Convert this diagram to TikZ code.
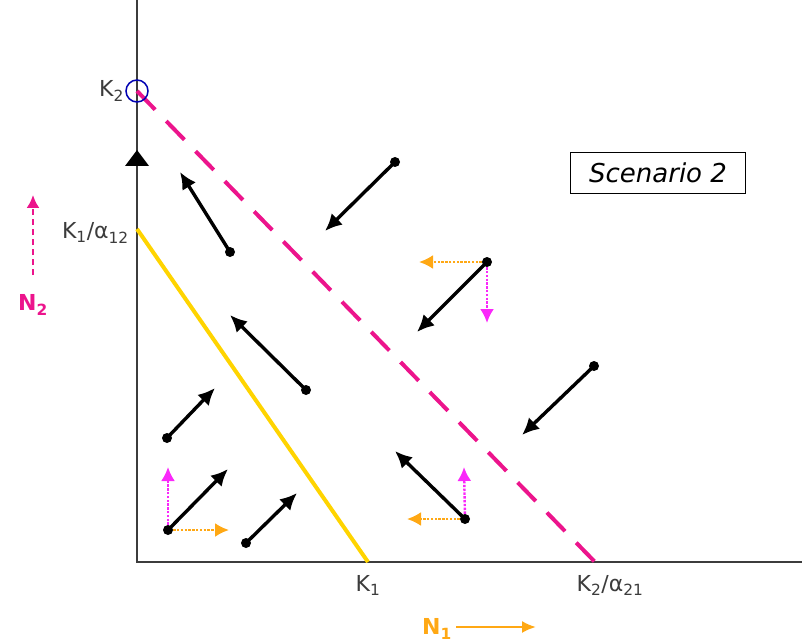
\documentclass[tikz,border=0pt]{standalone}
\usepackage{fontspec}
\setmainfont{DejaVu Sans}
\usetikzlibrary{arrows.meta,positioning}
\definecolor{isopink}{RGB}{236,20,140}
\definecolor{isoyellow}{RGB}{255,212,0}
\definecolor{pushorange}{RGB}{255,168,20}
\definecolor{pushmag}{RGB}{250,40,250}
\definecolor{txtgray}{RGB}{60,60,60}

\begin{document}
\begin{tikzpicture}[x=1pt,y=-1pt,>=Latex]
  \tikzstyle{lbl}=[text=txtgray,font=\fontsize{22}{24}\selectfont,inner sep=1pt]
  \tikzstyle{dot}=[circle,fill=black,inner sep=0pt,minimum size=10pt]
  \tikzstyle{flow}=[line width=3.4pt,-{Latex[length=17pt,width=16pt]},shorten <=-4pt]
  \tikzstyle{pushx}=[pushorange,line width=2.4pt,dash pattern=on 2.4pt off 1.4pt,-{Latex[length=14pt,width=14pt]}]
  \tikzstyle{pushy}=[pushmag,line width=2.4pt,dash pattern=on 2.4pt off 1.4pt,-{Latex[length=14pt,width=14pt]}]
  \useasboundingbox (0,0) rectangle (802,644);
  % axes
  \coordinate (o) at (137,562);
  \coordinate (ytop) at (137,0);
  \coordinate (xend) at (802,562);
  \draw[txtgray,line width=2.4pt] (ytop) -- (o) -- (xend);
  \fill[black] (137,150) -- (149,166) -- (125,166) -- cycle;
  % isoclines
  \coordinate (k2) at (137,91);
  \coordinate (k1a) at (137,229);
  \coordinate (k1) at (368,562);
  \coordinate (k2a) at (595,562);
  \draw[isoyellow,line width=4pt] (k1a) -- (k1);
  \draw[isopink,line width=4pt,dash pattern=on 26pt off 16pt] (k2) -- (k2a);
  \draw[blue!70!black,line width=1.5pt] (k2) circle (11pt);
  \node[lbl,left=12pt of k2] (k2lbl) {K\textsubscript{2}};
  \node[lbl,left=7pt of k1a,yshift=-4pt] (k1albl) {K\textsubscript{1}/α\textsubscript{12}};
  \node[lbl,below=12pt of k1] (k1lbl) {K\textsubscript{1}};
  \node[lbl,below=12pt of k2a,xshift=15pt] (k2albl) {K\textsubscript{2}/α\textsubscript{21}};
  % axis names
  \node[text=isopink,font=\bfseries\fontsize{22}{24}\selectfont] (n2) at (33,305) {N\textsubscript{2}};
  \coordinate (n2tip) at (33,195);
  \draw[isopink,line width=2.2pt,dash pattern=on 6pt off 4pt,-{Latex[length=13pt,width=13pt]}] (33,275) -- (n2tip);
  \node[text=pushorange,font=\bfseries\fontsize{22}{24}\selectfont] (n1) at (437,629) {N\textsubscript{1}};
  \coordinate (n1tip) at (536,627);
  \draw[pushorange,line width=2.2pt,-{Latex[length=14pt,width=12pt]}] (456,627) -- (n1tip);
  \node[draw,line width=1.6pt,minimum width=175pt,minimum height=41pt,font=\itshape\fontsize{26}{28}\selectfont] (scen) at (658,173) {Scenario 2};
  % trajectories
  \node[dot] (p1) at (395,162) {};
  \coordinate (q1) at (325,231);
  \draw[flow] (p1) -- (q1);
  \node[dot] (p2) at (230,252) {};
  \coordinate (q2) at (180,172);
  \draw[flow] (p2) -- (q2);
  \node[dot] (p3) at (487,262) {};
  \coordinate (q3) at (417,332);
  \coordinate (q3x) at (419,262);
  \coordinate (q3y) at (487,323);
  \draw[pushx] (p3) -- (q3x);
  \draw[pushy] (p3) -- (q3y);
  \draw[flow] (p3) -- (q3);
  \node[dot] (p4) at (306,390) {};
  \coordinate (q4) at (230,315);
  \draw[flow] (p4) -- (q4);
  \node[dot] (p5) at (594,366) {};
  \coordinate (q5) at (522,435);
  \draw[flow] (p5) -- (q5);
  \node[dot] (p6) at (167,438) {};
  \coordinate (q6) at (215,388);
  \draw[flow] (p6) -- (q6);
  \node[dot] (p7) at (168,530) {};
  \coordinate (q7) at (228,469);
  \coordinate (q7x) at (229,530);
  \coordinate (q7y) at (168,467);
  \draw[pushx] (p7) -- (q7x);
  \draw[pushy] (p7) -- (q7y);
  \draw[flow] (p7) -- (q7);
  \node[dot] (p8) at (246,543) {};
  \coordinate (q8) at (297,493);
  \draw[flow] (p8) -- (q8);
  \node[dot] (p9) at (465,519) {};
  \coordinate (q9) at (395,451);
  \coordinate (q9x) at (407,519);
  \coordinate (q9y) at (464,467);
  \draw[pushx] (p9) -- (q9x);
  \draw[pushy] (p9) -- (q9y);
  \draw[flow] (p9) -- (q9);
\end{tikzpicture}
\end{document}
